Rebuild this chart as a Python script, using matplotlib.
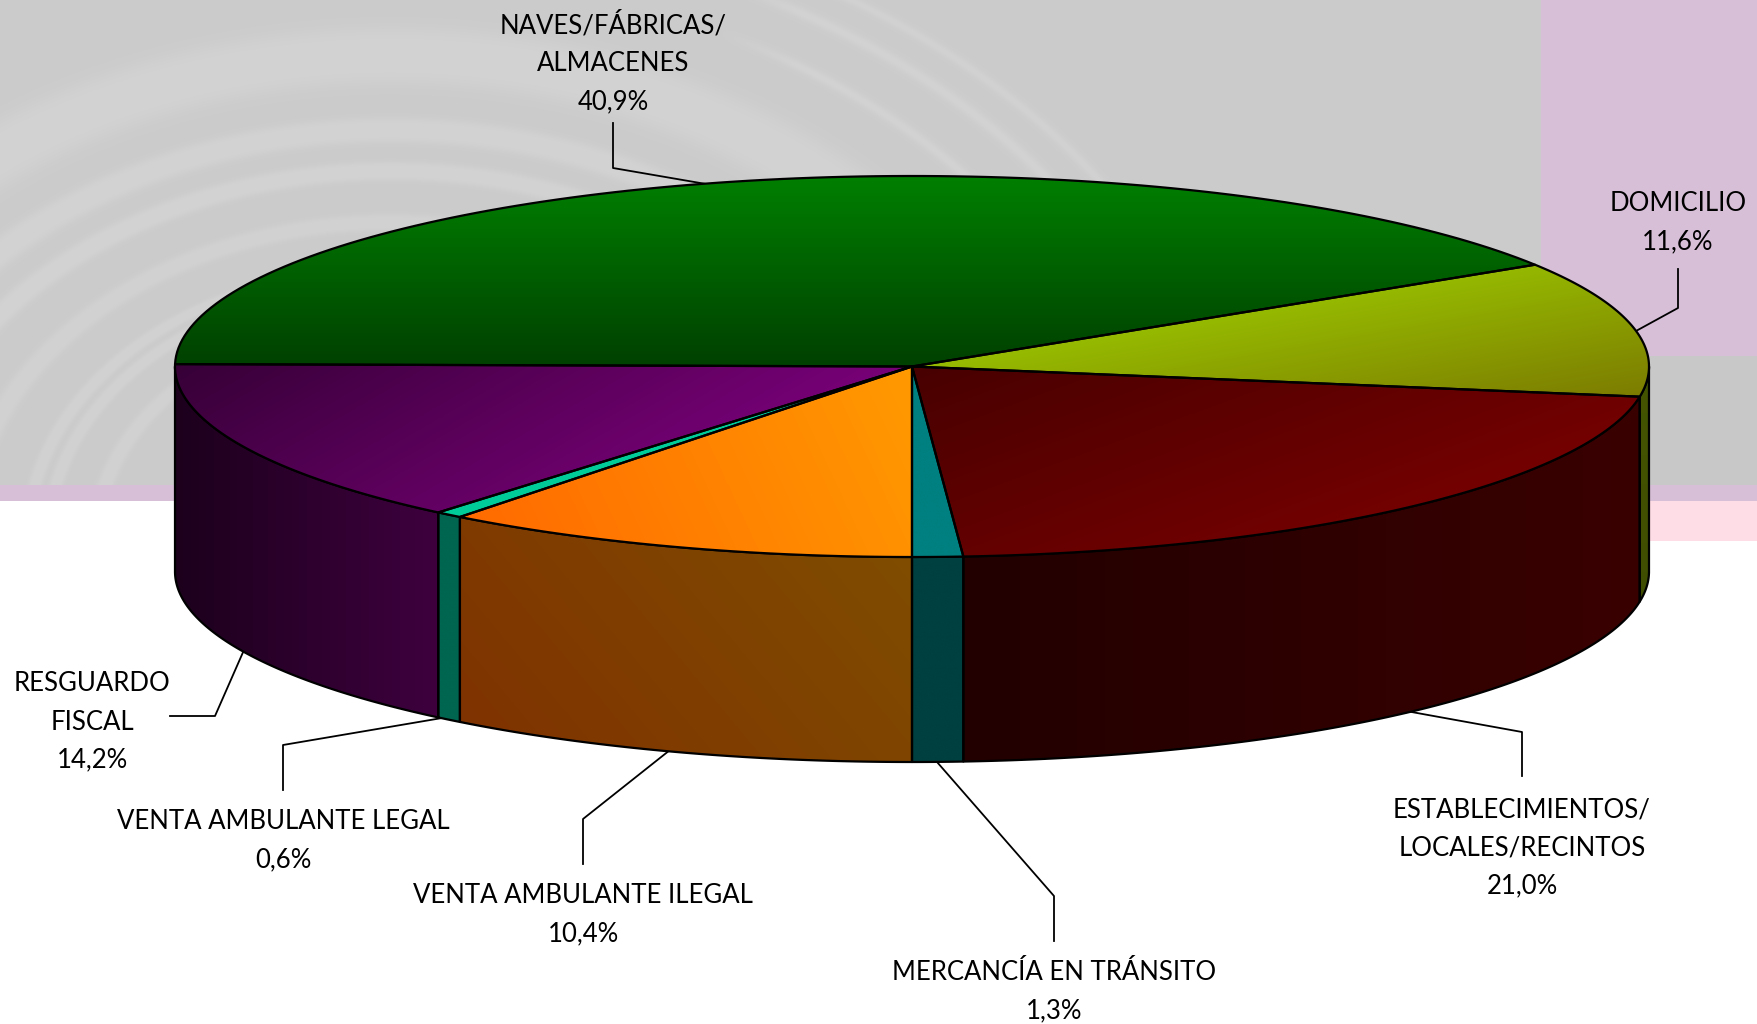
import numpy as np
import matplotlib
matplotlib.use("Agg")
import matplotlib.pyplot as plt
from matplotlib.colors import to_rgb
from matplotlib.patches import Polygon, Rectangle

# Data
labels = ["NAVES/FÁBRICAS/\nALMACENES", "DOMICILIO", "ESTABLECIMIENTOS/\nLOCALES/RECINTOS",
          "MERCANCÍA EN TRÁNSITO", "VENTA AMBULANTE ILEGAL", "VENTA AMBULANTE LEGAL",
          "RESGUARDO\nFISCAL"]
shares = [40.9, 11.6, 21.0, 1.3, 10.4, 0.6, 14.2]
# slice sizes as actually drawn in the picture (the printed labels are rounded differently)
drawn = [40.83, 11.5, 21.36, 1.11, 10.51, 0.6, 14.09]

# Top face colours (from, to, direction in degrees, y down)
top_style = [("#008000", "#004000", 90), ("#96bb00", "#7c7c00", 80), ("#480000", "#740000", 70),
             ("#008080", "#008080", 0), ("#ff6a00", "#ff9a00", -25), ("#00cc99", "#00cc99", 0),
             ("#360036", "#780078", 60)]
side_style = [("#002000", "#002000", 0), ("#445500", "#3f4d00", 90), ("#220000", "#3a0000", 0),
              ("#004040", "#004040", 0), ("#7f3300", "#804d00", -40), ("#006650", "#006650", 0),
              ("#1c001c", "#3e003e", 0)]

# label centre and leader line, in picture pixels
label_xy = [(613, 63), (1678, 223), (1522, 848), (1054, 992), (583, 915), (283, 841), (92, 722)]
leaders = [[(613, 123), (613, 168), (706, 184)],
           [(1678, 269), (1678, 308), (1636, 331)],
           [(1406, 711), (1522, 732), (1522, 776)],
           [(937, 762), (1054, 896), (1054, 941)],
           [(670, 750), (583, 819), (583, 864)],
           [(448, 717), (283, 745), (283, 790)],
           [(244, 650), (215, 716), (170, 716)]]

cx, cy = 912, 366.5
rx, ry = 737, 190.5
depth = 205
start = 179.28


def rim(a1, a2, n=120, dy=0):
    t = np.radians(np.linspace(a1, a2, n))
    return np.column_stack([cx + rx * np.cos(t), cy - ry * np.sin(t) + dy])


def grad_poly(ax, verts, c0, c1, ang, z):
    x0, y0 = verts.min(axis=0)
    x1, y1 = verts.max(axis=0)
    xx, yy = np.meshgrid(np.linspace(x0, x1, 300), np.linspace(y0, y1, 300))
    ca, sa = np.cos(np.radians(ang)), np.sin(np.radians(ang))
    dv = ca * verts[:, 0] + sa * verts[:, 1]
    t = (ca * xx + sa * yy - dv.min()) / max(dv.max() - dv.min(), 1e-6)
    t = np.clip(t, 0, 1)[..., None]
    img = np.array(to_rgb(c0)) * (1 - t) + np.array(to_rgb(c1)) * t
    im = ax.imshow(img, extent=(x0, x1, y1, y0), origin="upper", aspect="auto",
                   interpolation="bilinear", zorder=z)
    edge = Polygon(verts, closed=True, fc="none", ec="black", lw=1.6, joinstyle="round", zorder=z + 0.1)
    ax.add_patch(edge)
    im.set_clip_path(edge)


fig = plt.figure(figsize=(17.57, 10.24), dpi=100)
ax = fig.add_axes([0, 0, 1, 1])

# grey backdrop with the soft rings in it
xx, yy = np.meshgrid(np.arange(0, 1541), np.arange(0, 485))
r = np.hypot((xx - 390) / 685.0, (yy - 540) / 513.0)
grey = np.full(xx.shape, 203.0)
for r0, w, amp in [(0.945, 0.055, 7), (0.80, 0.024, 7), (0.72, 0.018, 7), (0.62, 0.016, 6),
                   (0.53, 0.010, 6), (0.50, 0.010, 6), (0.43, 0.012, 6)]:
    grey += amp * np.exp(-(np.abs(r - r0) / w) ** 4)
fade = np.clip((xx - 720) / 80.0, 0, 1)
for r0, w, amp in [(1.10, 0.009, 7), (1.19, 0.010, 7), (1.25, 0.008, 6)]:
    grey += fade * amp * np.exp(-((r - r0) / w) ** 2)
grey = np.minimum(grey, 211) / 255.0
ax.imshow(grey, extent=(0, 1541, 485, 0), cmap="gray", vmin=0, vmax=1, aspect="auto", zorder=0)

ax.add_patch(Rectangle((1541, 0), 216, 356, fc="#d8bfd8", ec="none", zorder=0))
ax.add_patch(Rectangle((1541, 356), 216, 129, fc="#c8c8c8", ec="none", zorder=0))
ax.add_patch(Rectangle((0, 485), 1757, 16, fc="#d8bfd8", ec="none", zorder=0))
ax.add_patch(Rectangle((1541, 501), 216, 40, fc="#ffdde6", ec="none", zorder=0))

ang = start - 360 * np.concatenate([[0], np.cumsum(drawn)]) / np.sum(drawn)

for pts in leaders:
    p = np.array(pts)
    ax.plot(p[:, 0], p[:, 1], color="black", lw=1.3, zorder=1)

# walls, then top faces
for i in range(len(drawn)):
    hi, lo = min(ang[i], 0), max(ang[i + 1], -180)
    if hi > lo:
        verts = np.vstack([rim(hi, lo), rim(lo, hi, dy=depth)])
        grad_poly(ax, verts, side_style[i][0], side_style[i][1], side_style[i][2], 2)
for i in range(len(drawn)):
    verts = np.vstack([[(cx, cy)], rim(ang[i], ang[i + 1])])
    grad_poly(ax, verts, top_style[i][0], top_style[i][1], top_style[i][2], 3)

for i, name in enumerate(labels):
    txt = name + "\n" + f"{shares[i]:.1f}%".replace(".", ",")
    ax.text(label_xy[i][0], label_xy[i][1], txt, ha="center", va="center", family="Lato",
            fontsize=18.5, linespacing=1.66, color="black", zorder=5)

ax.set_xlim(0, 1757)
ax.set_ylim(1024, 0)
ax.axis("off")
fig.savefig("out.png", dpi=100, facecolor="white")
